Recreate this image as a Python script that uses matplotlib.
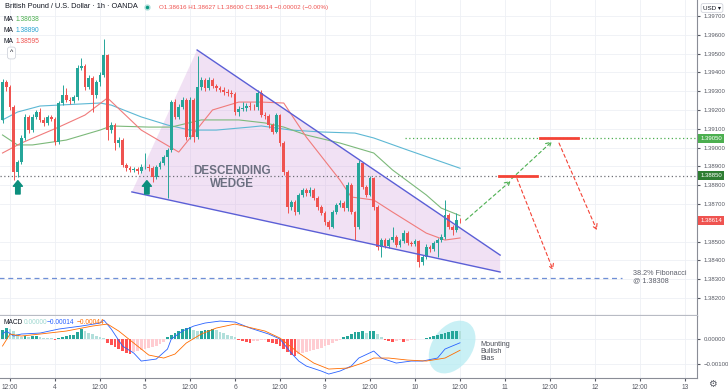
import matplotlib
matplotlib.use("Agg")
import matplotlib.pyplot as plt
import matplotlib.transforms as mtransforms
from matplotlib.patches import Polygon, Ellipse

plt.rcParams['font.family'] = ['Liberation Sans', 'DejaVu Sans']

# --- GBP/USD 1h candles, bar index in hours from the 3rd 12:00 ---
bar_pos = list(range(-2, 121))
first_open = 1.39147
closes = [
    1.39349, 1.39322, 1.39216, 1.38870, 1.38923, 1.39051, 1.39163, 1.39093, 1.39163, 1.39189,
    1.39147, 1.39131, 1.39163, 1.39152, 1.39030, 1.39237, 1.39280, 1.39253, 1.39248, 1.39269,
    1.39423, 1.39434, 1.39322, 1.39370, 1.39280, 1.39349, 1.39386, 1.39492, 1.39093, 1.39120,
    1.39024, 1.39040, 1.38907, 1.38891, 1.38881, 1.38886, 1.38875, 1.38897, 1.38899, 1.38891,
    1.38843, 1.38897, 1.38918, 1.38950, 1.38987, 1.39242, 1.39163, 1.39216, 1.39253, 1.39056,
    1.39253, 1.39056, 1.39322, 1.39359, 1.39317, 1.39359, 1.39327, 1.39317, 1.39306, 1.39296,
    1.39290, 1.39285, 1.39189, 1.39205, 1.39210, 1.39221, 1.39216, 1.39214, 1.39290, 1.39173,
    1.39168, 1.39120, 1.39083, 1.39173, 1.39024, 1.38870, 1.38684, 1.38710, 1.38657, 1.38748,
    1.38774, 1.38758, 1.38774, 1.38732, 1.38684, 1.38652, 1.38604, 1.38577, 1.38657, 1.38694,
    1.38705, 1.38678, 1.38801, 1.38657, 1.38577, 1.38918, 1.38790, 1.38748, 1.38838, 1.38684,
    1.38471, 1.38508, 1.38476, 1.38508, 1.38524, 1.38482, 1.38503, 1.38545, 1.38492, 1.38487,
    1.38503, 1.38391, 1.38418, 1.38471, 1.38460, 1.38492, 1.38508, 1.38524, 1.38641, 1.38577,
    1.38561, 1.38616, 1.38614,
]
highs = [
    1.39365, 1.39362, 1.39335, 1.39225, 1.38935, 1.39065, 1.39180, 1.39175, 1.39178, 1.39200,
    1.39210, 1.39160, 1.39175, 1.39172, 1.39160, 1.39250, 1.39333, 1.39315, 1.39270, 1.39282,
    1.39440, 1.39476, 1.39445, 1.39385, 1.39380, 1.39360, 1.39400, 1.39577, 1.39500, 1.39135,
    1.39130, 1.39055, 1.39050, 1.38920, 1.38900, 1.38898, 1.38895, 1.38910, 1.38971, 1.38910,
    1.38900, 1.38908, 1.38930, 1.38962, 1.39000, 1.39255, 1.39260, 1.39230, 1.39268, 1.39265,
    1.39268, 1.39265, 1.39487, 1.39375, 1.39370, 1.39375, 1.39370, 1.39340, 1.39328, 1.39320,
    1.39310, 1.39305, 1.39295, 1.39220, 1.39240, 1.39235, 1.39240, 1.39230, 1.39305, 1.39306,
    1.39190, 1.39180, 1.39130, 1.39185, 1.39180, 1.39035, 1.38880, 1.38722, 1.38720, 1.38760,
    1.38785, 1.38785, 1.38790, 1.38785, 1.38745, 1.38695, 1.38660, 1.38615, 1.38670, 1.38705,
    1.38720, 1.38715, 1.38815, 1.38810, 1.38665, 1.38934, 1.38925, 1.38800, 1.38850, 1.38845,
    1.38695, 1.38520, 1.38520, 1.38520, 1.38577, 1.38535, 1.38515, 1.38560, 1.38555, 1.38505,
    1.38515, 1.38510, 1.38430, 1.38485, 1.38480, 1.38505, 1.38520, 1.38540, 1.38721, 1.38650,
    1.38590, 1.38652, 1.38627,
]
lows = [
    1.39130, 1.39300, 1.39200, 1.38827, 1.38843, 1.38910, 1.39040, 1.39075, 1.39085, 1.39150,
    1.39135, 1.39115, 1.39120, 1.39140, 1.39012, 1.39020, 1.39225, 1.39240, 1.39232, 1.39235,
    1.39255, 1.39410, 1.39305, 1.39310, 1.39189, 1.39265, 1.39330, 1.39375, 1.39040, 1.39075,
    1.38987, 1.39005, 1.38895, 1.38878, 1.38868, 1.38870, 1.38862, 1.38865, 1.38885, 1.38878,
    1.38817, 1.38835, 1.38885, 1.38905, 1.38732, 1.38975, 1.39150, 1.39150, 1.39205, 1.39040,
    1.39045, 1.39030, 1.39045, 1.39305, 1.39300, 1.39305, 1.39315, 1.39300, 1.39295, 1.39280,
    1.39275, 1.39270, 1.39175, 1.39170, 1.39195, 1.39195, 1.39200, 1.39200, 1.39200, 1.39160,
    1.39150, 1.39105, 1.39070, 1.39075, 1.39010, 1.38855, 1.38652, 1.38670, 1.38640, 1.38645,
    1.38735, 1.38745, 1.38745, 1.38720, 1.38670, 1.38640, 1.38590, 1.38565, 1.38570, 1.38645,
    1.38685, 1.38665, 1.38665, 1.38645, 1.38508, 1.38565, 1.38780, 1.38735, 1.38740, 1.38670,
    1.38455, 1.38418, 1.38465, 1.38465, 1.38495, 1.38470, 1.38470, 1.38490, 1.38480, 1.38475,
    1.38475, 1.38364, 1.38375, 1.38405, 1.38445, 1.38450, 1.38418, 1.38495, 1.38515, 1.38565,
    1.38535, 1.38550, 1.38600,
]

ma_fast_x = [-2, 3, 13, 20, 26, 35, 45, 54, 61, 67, 73, 79, 88, 91, 97, 102, 111, 116, 120]
ma_fast = [1.38971, 1.39024, 1.39109, 1.39173, 1.39264, 1.39093, 1.38976, 1.39200, 1.39242, 1.39242,
           1.39237, 1.39056, 1.38827, 1.38737, 1.38721, 1.38657, 1.38545, 1.38508, 1.38519]
ma_mid_x = [-2, 2, 6, 15, 24, 27, 37, 43, 51, 61, 68, 73, 79, 88, 97, 102, 111, 115, 120]
ma_mid = [1.39067, 1.39014, 1.39014, 1.39040, 1.39093, 1.39115, 1.39109, 1.39109, 1.39147, 1.39147,
          1.39131, 1.39109, 1.39067, 1.39024, 1.38971, 1.38881, 1.38748, 1.38678, 1.38638]
ma_slow_x = [-2, 2, 8, 24, 27, 35, 42, 48, 55, 64, 67, 75, 83, 92, 97, 106, 120]
ma_slow = [1.39147, 1.39189, 1.39221, 1.39237, 1.39226, 1.39163, 1.39120, 1.39093, 1.39093, 1.39109,
           1.39115, 1.39093, 1.39083, 1.39077, 1.39051, 1.38987, 1.38890]

# MACD
macd_x = [-2, -1, 1, 3, 8, 13, 19, 24, 25, 27, 30, 33, 35, 39, 42, 43, 46, 49, 52, 56,
          60, 64, 69, 72, 75, 77, 79, 83, 85, 88, 91, 93, 97, 99, 103, 107, 110, 114, 116, 120]
macd_line = [0.00021, 0.00033, 0.00013, 0.00021, 0.00025, 0.00041, 0.00053, 0.00065, 0.00077, 0.00041,
             -0.00027, -0.00055, -0.00087, -0.00079, -0.00039, 0.00001, 0.00033, 0.00053, 0.00065, 0.00073,
             0.00069, 0.00045, 0.00021, 0.00001, -0.00055, -0.00087, -0.00107, -0.00127, -0.00139, -0.00127,
             -0.00107, -0.00075, -0.00047, -0.00075, -0.00095, -0.00087, -0.00087, -0.00075, -0.00039, -0.00014]
signal_x = [-2, 0, 3, 8, 15, 22, 26, 29, 33, 37, 41, 44, 47, 51, 55, 60, 68, 72, 77, 81,
            85, 90, 94, 97, 101, 106, 111, 116, 120]
signal_line = [-0.00027, 0.00021, 0.00013, 0.00021, 0.00033, 0.00053, 0.00061, 0.00033, -0.00015, -0.00063,
               -0.00075, -0.00059, -0.00015, 0.00021, 0.00045, 0.00061, 0.00033, 0.00005, -0.00055, -0.00095,
               -0.00119, -0.00115, -0.00095, -0.00075, -0.00075, -0.00083, -0.00087, -0.00075, -0.00044]
macd_hist = [
    0.00036, 0.00044, 0.00040, 0.00032, 0.00020, 0.00008, 0.00012, 0.00008, 0.00012, 0.00013,
    0.00009, 0.00007, 0.00006, 0.00004, -0.00004, 0.00004, 0.00008, 0.00012, 0.00016, 0.00018,
    0.00028, 0.00040, 0.00032, 0.00024, 0.00020, 0.00012, 0.00008, 0.00004, -0.00016, -0.00024,
    -0.00032, -0.00040, -0.00048, -0.00056, -0.00060, -0.00052, -0.00048, -0.00044, -0.00040, -0.00036,
    -0.00032, -0.00028, -0.00020, -0.00012, 0.00008, 0.00016, 0.00024, 0.00032, 0.00040, 0.00044,
    0.00048, 0.00036, 0.00032, 0.00034, 0.00036, 0.00038, 0.00040, 0.00036, 0.00028, 0.00024,
    0.00016, 0.00012, 0.00008, -0.00004, -0.00008, -0.00012, -0.00014, -0.00008, -0.00007, -0.00004,
    -0.00003, -0.00012, -0.00016, -0.00018, -0.00028, -0.00040, -0.00052, -0.00064, -0.00068, -0.00060,
    -0.00056, -0.00052, -0.00048, -0.00044, -0.00040, -0.00036, -0.00028, -0.00024, -0.00016, -0.00008,
    -0.00004, 0.00008, 0.00012, 0.00020, 0.00028, 0.00030, 0.00032, 0.00024, 0.00032, 0.00034,
    0.00020, 0.00008, -0.00004, -0.00008, -0.00012, -0.00008, -0.00004, -0.00012, -0.00008, -0.00004,
    -0.00002, 0.00002, 0.00001, 0.00004, 0.00008, 0.00012, 0.00016, 0.00020, 0.00024, 0.00028,
    0.00032, 0.00034, 0.00032,
]

# time axis
tick_pos = [0, 12, 24, 36, 48, 60, 72, 84, 96, 108, 120, 132, 144, 156, 168, 180]
tick_labels = ['12:00', '4', '12:00', '5', '12:00', '6', '12:00', '9', '12:00', '10',
               '12:00', '11', '12:00', '12', '12:00', '13']
price_ticks = [1.382, 1.383, 1.384, 1.385, 1.387, 1.388, 1.389, 1.390, 1.391,
               1.392, 1.393, 1.394, 1.395, 1.396, 1.397]

# drawings
wedge_pts = [(32.5, 1.38764), (49.9, 1.39519), (130.7, 1.38428), (130.7, 1.38338)]
resistance_1 = 1.38850
resistance_2 = 1.39050
fib_level = 1.38308
last_price = 1.38614
arrow_up_x = [2.1, 36.5]

UP = '#26a69a'
DOWN = '#ef5350'

fig = plt.figure(figsize=(7.28, 3.91), dpi=100)
ax = fig.add_axes([0, 75 / 391, 697 / 728, 316 / 391])
ax2 = fig.add_axes([0, 13 / 391, 697 / 728, 62 / 391], sharex=ax)

def fpx(x, y):
    return x / 728, 1 - y / 391

# candles
opens = [first_open] + closes[:-1]
for x, o, h, l, c in zip(bar_pos, opens, highs, lows, closes):
    col = UP if c >= o else DOWN
    ax.vlines(x, l, h, color=col, lw=0.7, zorder=4)
    ax.bar(x, max(abs(c - o), 0.000012), bottom=min(o, c), width=0.72, color=col, lw=0, zorder=5)

ax.plot(ma_slow_x, ma_slow, color='#5db8d4', lw=0.8, zorder=3)
ax.plot(ma_mid_x, ma_mid, color='#7cb97a', lw=0.8, zorder=3)
ax.plot(ma_fast_x, ma_fast, color='#f07b7b', lw=0.8, zorder=3)

# wedge
ax.add_patch(Polygon(wedge_pts, closed=True, fc='#d9a9e0', alpha=0.35, ec='none', zorder=1))
ax.plot([wedge_pts[1][0], wedge_pts[2][0]], [wedge_pts[1][1], wedge_pts[2][1]], color='#5b5fd6', lw=1, zorder=6)
ax.plot([wedge_pts[0][0], wedge_pts[3][0]], [wedge_pts[0][1], wedge_pts[3][1]], color='#5b5fd6', lw=1, zorder=6)
ax.text(59.1, 1.38875, 'DESCENDING', ha='center', va='center', fontsize=8.4, fontweight='bold',
        color='#6b6f80', zorder=7)
ax.text(59.2, 1.38805, 'WEDGE', ha='center', va='center', fontsize=8.4, fontweight='bold',
        color='#6b6f80', zorder=7)

# levels
ax.axhline(resistance_1, color='#6d6f75', lw=0.9, ls=(0, (1, 2)), zorder=2)
ax.plot([105.3, 184], [resistance_2, resistance_2], color='#4caf50', lw=0.9, ls=(0, (1, 2)), zorder=2)
ax.plot([-3, 163.2], [fib_level, fib_level], color='#6f8fd6', lw=0.9, ls=(0, (4, 3)), zorder=2)
ax.text(166.1, fib_level + 0.00001, '38.2% Fibonacci\n@ 1.38308', fontsize=5.2, color='#5d606b',
        va='center', ha='left', linespacing=1.0)
ax.plot([130.4, 140.5], [resistance_1, resistance_1], color='#f44336', lw=2, zorder=6)
ax.plot([141.3, 151.5], [resistance_2, resistance_2], color='#f44336', lw=2, zorder=6)

# scenario arrows
dash_kw = dict(lw=0.8, linestyle=(0, (3, 2.5)), shrinkA=0, shrinkB=0)
ax.annotate('', xy=(133.5, 1.38822), xytext=(121.5, 1.38614),
            arrowprops=dict(arrowstyle='->,head_length=0.35,head_width=0.2', color='#4caf50', **dash_kw))
ax.annotate('', xy=(144.5, 1.39032), xytext=(133.8, 1.38835),
            arrowprops=dict(arrowstyle='->,head_length=0.35,head_width=0.2', color='#4caf50', **dash_kw))
ax.annotate('', xy=(144.8, 1.38349), xytext=(135.2, 1.38835),
            arrowprops=dict(arrowstyle='->,head_length=0.35,head_width=0.2', color='#f44336', **dash_kw))
ax.annotate('', xy=(156.5, 1.38561), xytext=(146.4, 1.39024),
            arrowprops=dict(arrowstyle='->,head_length=0.35,head_width=0.2', color='#f44336', **dash_kw))

for x in arrow_up_x:
    ax.annotate('', xy=(x, 1.38824), xytext=(x, 1.38753),
                arrowprops=dict(arrowstyle='simple,head_width=0.65,head_length=0.4,tail_width=0.32',
                                color='#0b8f7d', shrinkA=0, shrinkB=0), zorder=8)

ax.set_xlim(-2.667, 183.2)
ax.set_ylim(1.38104, 1.39785)
ax.set_yticks(price_ticks)
ax.set_yticklabels([f'{p:.5f}' for p in price_ticks])
ax.yaxis.tick_right()
ax.tick_params(axis='y', labelsize=4.3, colors='#555862', length=2, pad=2.5)
ax.tick_params(axis='x', labelbottom=False, length=0)
ax.set_xticks(tick_pos)
ax.grid(True, color='#eef0f5', lw=0.6)
ax.set_axisbelow(True)
for s in ['top', 'left']:
    ax.spines[s].set_visible(False)
ax.spines['right'].set_color('#8a8d96')
ax.spines['right'].set_linewidth(0.8)
ax.spines['bottom'].set_color('#b8bbc4')
ax.spines['bottom'].set_linewidth(1.6)

def tag(axis, value, text, color):
    axis.text(1.005, value, text, transform=axis.get_yaxis_transform(), ha='left', va='center',
              fontsize=4.3, color='white', clip_on=False, zorder=10,
              bbox=dict(boxstyle='square,pad=0.35', fc=color, ec='none'))

tag(ax, resistance_2, '1.39050', '#4caf50')
tag(ax, resistance_1, '1.38850', '#2e7d32')
tag(ax, last_price, '1.38614', '#ef5350')

# MACD panel
prev = 0
for x, v in zip(bar_pos, macd_hist):
    if v >= 0:
        col = '#26a69a' if v > prev else '#b2dfdb'
    else:
        col = '#ff5252' if v < prev else '#ffcdd2'
    ax2.bar(x, v, width=0.75, color=col, lw=0, zorder=3)
    prev = v
ax2.plot(macd_x, macd_line, color='#2962ff', lw=0.6, zorder=4)
ax2.plot(signal_x, signal_line, color='#ff6d00', lw=0.6, zorder=4)

ell_tr = fig.dpi_scale_trans + mtransforms.ScaledTranslation(117.9, -0.00031, ax2.transData)
ax2.add_patch(Ellipse((0, 0), 0.58, 0.40, angle=55, transform=ell_tr, fc='#b2ebf2', alpha=0.7,
                      ec='none', zorder=1))
ax2.text(125.3, -0.00047, 'Mounting\nBullish\nBias', fontsize=5.2, color='#4a4d57', va='center',
         ha='left', linespacing=1.0)

ax2.set_ylim(-0.001548, 0.000932)
ax2.set_yticks([0.0, -0.001])
ax2.set_yticklabels(['0.00000', '\u22120.00100'])
ax2.yaxis.tick_right()
ax2.tick_params(axis='y', labelsize=4.3, colors='#555862', length=2, pad=2.5)
ax2.set_xticks(tick_pos)
ax2.set_xticklabels(tick_labels)
ax2.tick_params(axis='x', labelsize=4.8, colors='#555862', length=2, pad=2)
ax2.grid(True, color='#eef0f5', lw=0.6)
ax2.set_axisbelow(True)
for s in ['top', 'left']:
    ax2.spines[s].set_visible(False)
ax2.spines['right'].set_color('#8a8d96')
ax2.spines['right'].set_linewidth(0.8)
ax2.spines['bottom'].set_color('#8a8d96')
ax2.spines['bottom'].set_linewidth(0.8)

# header texts
fig.text(*fpx(5, 7), 'British Pound / U.S. Dollar \u00b7 1h \u00b7 OANDA', fontsize=5.3,
         color='#131722', va='center')
ax.plot([147 / 697], [1 - 7 / 316], 'o', transform=ax.transAxes, ms=3.5, mfc='#089981',
        mec='#b2dfdb', mew=1.0, clip_on=False, zorder=12)
fig.text(*fpx(159, 7), 'O1.38616 H1.38627 L1.38600 C1.38614 \u22120.00002 (\u22120.00%)',
         fontsize=4.5, color='#ef5350', va='center')
for yy, val, col in [(19.5, '1.38638', '#4caf50'), (30.5, '1.38890', '#29a3d1'),
                     (41.5, '1.38595', '#ef5350')]:
    fig.text(*fpx(4, yy), 'MA', fontsize=4.8, color='#131722', va='center')
    fig.text(*fpx(16, yy), val, fontsize=4.8, color=col, va='center')
fig.text(*fpx(11.5, 53), '^', fontsize=5, color='#131722', va='center', ha='center',
         bbox=dict(boxstyle='round,pad=0.35', fc='white', ec='#d1d4dc', lw=0.6))
fig.text(*fpx(3, 323), 'MACD', fontsize=4.8, color='#131722', va='center')
fig.text(*fpx(24, 323), '0.00000', fontsize=4.8, color='#9fd8d0', va='center')
fig.text(*fpx(47, 323), '\u22120.00014', fontsize=4.8, color='#2962ff', va='center')
fig.text(*fpx(77, 323), '\u22120.00044', fontsize=4.8, color='#ff6d00', va='center')
fig.text(*fpx(712, 8), 'USD \u25be', fontsize=4.5, color='#131722', va='center', ha='center',
         bbox=dict(boxstyle='round,pad=0.3', fc='white', ec='#d1d4dc', lw=0.6))
fig.text(*fpx(712, 384), '\u2699', fontsize=7, color='#555862', va='center', ha='center')

fig.savefig('out.png', dpi=100)
